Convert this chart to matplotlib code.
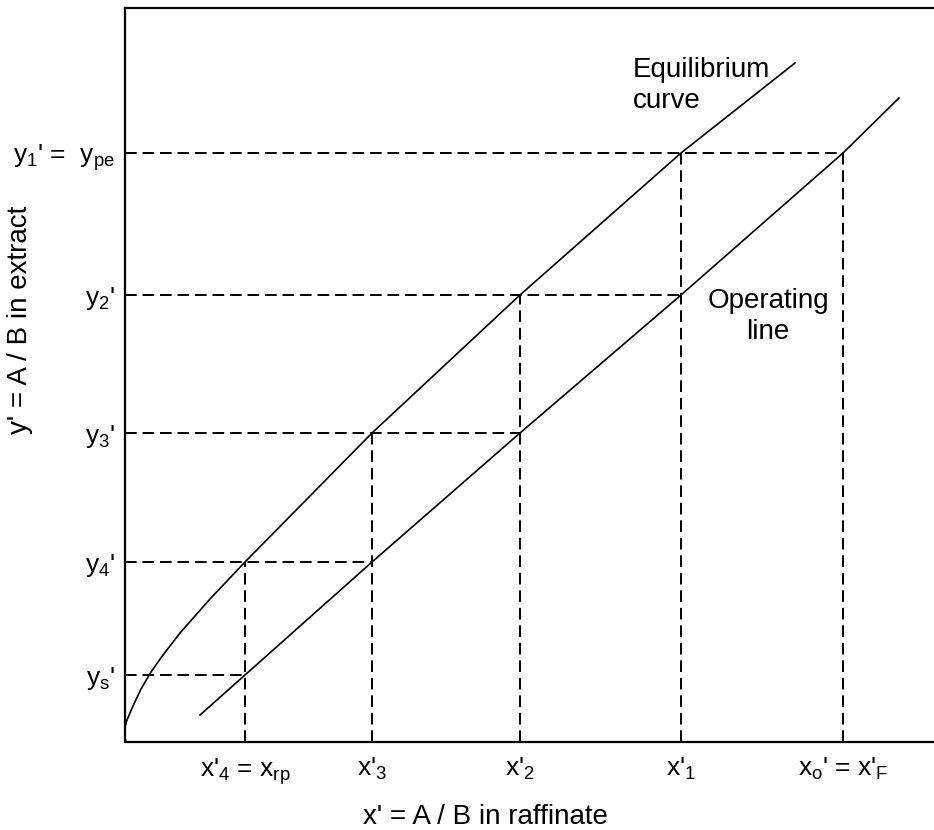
import numpy as np
import matplotlib
matplotlib.use("Agg")
import matplotlib.pyplot as plt

plt.rcParams['font.family'] = ['Liberation Sans', 'DejaVu Sans']
plt.rcParams['mathtext.fontset'] = 'custom'
plt.rcParams['mathtext.rm'] = 'Liberation Sans'
plt.rcParams['mathtext.it'] = 'Liberation Sans'

# stage compositions (axis units)
x_stage = [120, 247, 395, 556, 718]          # x'4, x'3, x'2, x'1, x'F
x_labels = [r"x'$_4$ = x$_{\rm rp}$", r"x'$_3$", r"x'$_2$", r"x'$_1$", r"x$_{\rm o}$' = x'$_{\rm F}$"]
y_stage = [589, 447, 309, 180, 67]           # y1, y2, y3, y4, ys
y_labels = [r"y$_1$' =  y$_{\rm pe}$", r"y$_2$'", r"y$_3$'", r"y$_4$'", r"y$_{\rm s}$'"]

# equilibrium curve
eq_x = [1, -1, 0, 2, 8, 16, 26, 38, 55, 85, 120, 247, 395, 556, 670]
eq_y = [0, 8, 15, 22, 36, 53, 70, 87, 109, 143, 180, 309, 447, 589, 679]

# operating line
op_x = [75, 120, 247, 395, 556, 718, 774]
op_y = [27, 67, 180, 309, 447, 589, 644]

fig = plt.figure(figsize=(9.34, 8.30), dpi=100)
ax = fig.add_axes([125/934, 88/830, 809/934, 734/830])
ax.set_xlim(0, 809)
ax.set_ylim(0, 734)

ax.plot(eq_x, eq_y, color='black', lw=1.2, solid_joinstyle='round')
ax.plot(op_x, op_y, color='black', lw=1.2)

dash = (0, (6, 3))
# horizontal dashed steps: y1 to x'F, y2 to x'1, y3 to x'2, y4 to x'3, ys to x'4
h_end = [x_stage[4], x_stage[3], x_stage[2], x_stage[1], x_stage[0]]
for yv, xe in zip(y_stage, h_end):
    ax.plot([0, xe], [yv, yv], color='black', lw=1.4, linestyle=dash)
# vertical dashed drops
v_top = [y_stage[3], y_stage[2], y_stage[1], y_stage[0], y_stage[0]]
for xv, yt in zip(x_stage, v_top):
    ax.plot([xv, xv], [0, yt], color='black', lw=1.4, linestyle=dash)

ax.spines['right'].set_visible(False)
for s in ['left', 'top', 'bottom']:
    ax.spines[s].set_linewidth(1.6)

ax.set_xticks(x_stage)
ax.set_xticklabels(x_labels, fontsize=19)
ax.set_yticks(y_stage)
ax.set_yticklabels(y_labels, fontsize=19)
ax.tick_params(length=0)
ax.tick_params(axis='x', pad=10)
ax.tick_params(axis='y', pad=7)

fig.text(485/934, 1 - 817/830, "x' = A / B in raffinate", fontsize=20, ha='center', va='center')
fig.text(20/934, 1 - 320/830, "y' = A / B in extract", fontsize=20, ha='center', va='center', rotation=90)

ax.text(508, 634, "Equilibrium\ncurve", fontsize=20, ha='left', va='baseline', linespacing=1.25)
ax.text(643, 403, "Operating\nline", fontsize=20, ha='center', va='baseline', linespacing=1.25)

fig.savefig("out.png", dpi=100)
